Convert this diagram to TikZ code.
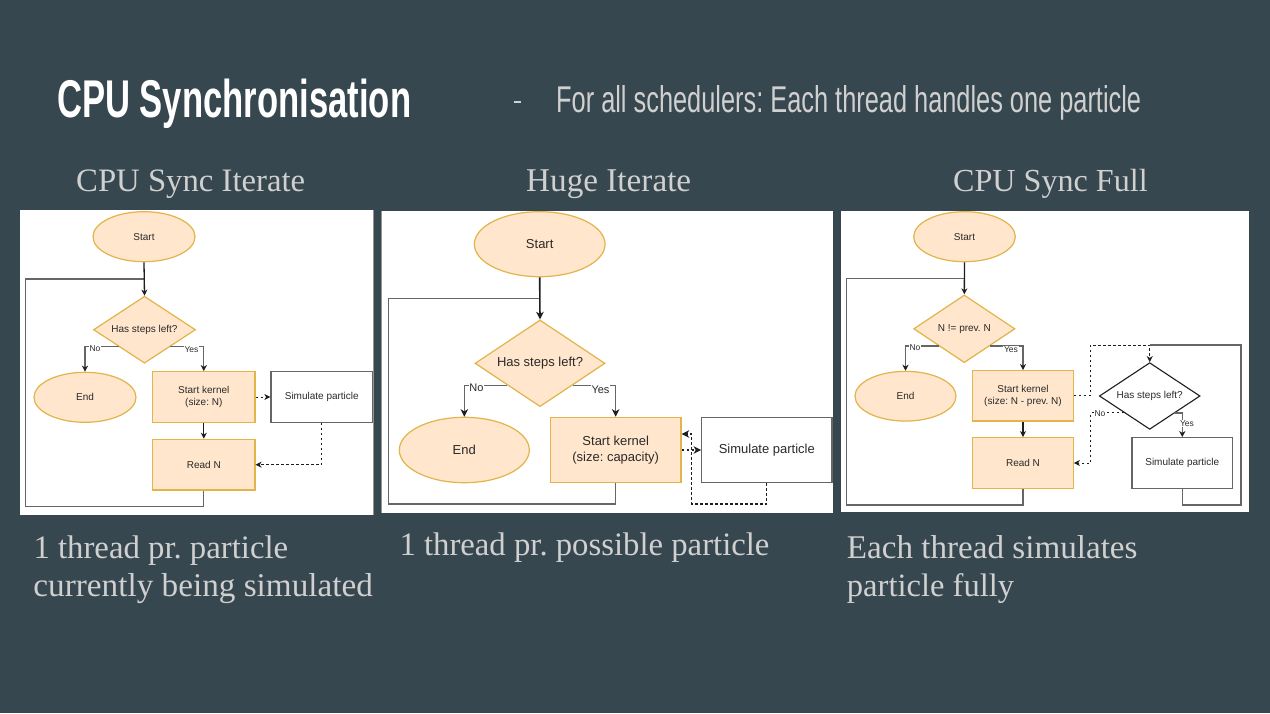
\documentclass[tikz,border=0pt]{standalone}
\usepackage{fontspec}
\setmainfont{Liberation Serif}
\newfontfamily\dio{Liberation Sans}
\newfontfamily\ttlfont{Liberation Sans}
\usetikzlibrary{shapes.geometric,arrows.meta}
\definecolor{bg}{HTML}{37474F}
\definecolor{fillo}{HTML}{FFE6CC}
\definecolor{stro}{HTML}{E2B449}
\definecolor{lgray}{HTML}{D0D0D0}
\definecolor{txtd}{HTML}{2A2A2A}
\definecolor{lineg}{HTML}{666666}
\definecolor{lined}{HTML}{1E1E1E}
\newcommand{\fitw}[2]{\resizebox{#1}{!}{\fontsize{33}{33}\selectfont #2}}
\frenchspacing
\begin{document}
\begin{tikzpicture}[x=1pt,y=-1pt,
  every node/.style={inner sep=0pt},
  orn/.style={draw=stro, fill=fillo, line width=1.2pt, text=txtd},
  wbox/.style={draw=lineg, fill=white, line width=1.2pt, text=txtd},
  sz/.style 2 args={minimum width=#1pt, minimum height=#2pt},
  fa/.style={font=\dio\fontsize{10}{12}\selectfont, align=center, text=txtd},
  fb/.style={font=\dio\fontsize{13}{15.5}\selectfont, align=center, text=txtd},
  lbla/.style={font=\dio\fontsize{8.5}{9}\selectfont, fill=white, text=txtd, inner sep=0.6pt},
  lblb/.style={font=\dio\fontsize{11}{12}\selectfont, fill=white, text=txtd, inner sep=0.8pt},
  tipa/.style={-{Stealth[length=6pt,width=6pt,inset=1.8pt,color=lined]}},
  tipb/.style={-{Stealth[length=7.5pt,width=7.5pt,inset=2.2pt,color=lined]}},
  main/.style={draw=lined, line width=1.3pt},
  br/.style={draw=lineg, line width=1.3pt},
  dsh/.style={draw=lined, line width=1pt, dash pattern=on 2.5pt off 2.5pt},
  hd/.style={anchor=base west, text=lgray},
]
\useasboundingbox (0,0) rectangle (1270,713);
\fill[bg] (0,0) rectangle (1270,713);

% ---------- titles ----------
\node[anchor=base west, text=white] (title) at (57,117.5)
  {\resizebox{354pt}{38.5pt}{\ttlfont\bfseries CPU Synchronisation}};
\draw[lgray, line width=2pt] (513.5,102) -- (520.5,102);
\node[anchor=base west, text=lgray] (sub) at (556,112)
  {\resizebox{585pt}{27pt}{\ttlfont For all schedulers: Each thread handles one particle}};

\node[hd] (h1) at (76,191) {\fitw{229pt}{CPU Sync Iterate}};
\node[hd] (h2) at (526,191) {\fitw{165pt}{Huge Iterate}};
\node[hd] (h3) at (953,191) {\fitw{194.5pt}{CPU Sync Full}};

\node[hd] (t1a) at (33.3,558.3) {\fitw{254.7pt}{1 thread pr. particle}};
\node[hd] (t1b) at (33.3,596) {\fitw{339.4pt}{currently being simulated}};
\node[hd] (t2a) at (399.3,555.7) {\fitw{370pt}{1 thread pr. possible particle}};
\node[hd] (t3a) at (846.7,558.3) {\fitw{290.6pt}{Each thread simulates}};
\node[hd] (t3b) at (846.7,596.7) {\fitw{167.3pt}{particle fully}};

% ---------- panels ----------
\fill[white] (20,210) rectangle (374,515);
\draw[lineg!70, line width=1pt] (373.3,210) -- (373.3,515);
\fill[white] (381,211) rectangle (833,513);
\draw[lineg!70, line width=1pt] (381.8,211) -- (381.8,513);
\fill[white] (841,211) rectangle (1249,512);

% ================= Panel 1 =================
\node[orn, ellipse, sz={102}{50}, fa] (S1) at (144,236.7) {Start};
\node[orn, diamond, sz={102}{67}] (D1) at (144.5,329.7) {};
\node[fa] (D1t) at (D1) {Has steps left?};
\node[orn, ellipse, sz={102}{50}, fa] (E1) at (85,397.3) {End};
\node[orn, rectangle, sz={102.3}{50.6}, fa] (K1) at (203.8,397) {Start kernel\\(size: N)};
\node[wbox, rectangle, sz={101.7}{50.6}, fa] (P1) at (321.8,397) {Simulate particle};
\node[orn, rectangle, sz={102.3}{50.7}, fa] (R1) at (203.8,464.7) {Read N};
\coordinate (L1a) at (25.7,506.7);
\coordinate (L1b) at (25.7,279);

\draw[br] (R1.south) |- (L1a) -- (L1b) -- (L1b -| S1.south);
\draw[main, tipa] (S1.south) -- (D1.north);
\draw[br, tipa] (D1.south west) -| (E1.north);
\draw[br, tipa] (D1.south east) -| (K1.north);
\node[lbla] (n1) at (95,348.3) {No};
\node[lbla] (y1) at (191.5,350) {Yes};
\draw[dsh, tipa] (K1.east) -- (P1.west);
\draw[main, tipa] (K1.south) -- (R1.north);
\draw[dsh, tipa] (P1.south) |- (R1.east);

% ================= Panel 2 =================
\node[orn, ellipse, sz={130.7}{65}, fb] (S2) at (539.7,244.2) {Start};
\node[orn, diamond, sz={130}{86.7}] (D2) at (540,363.3) {};
\node[fb] (D2t) at (D2) {Has steps left?};
\node[orn, ellipse, sz={130}{65.4}, fb] (E2) at (464.3,450) {End};
\node[orn, rectangle, sz={130.7}{65.4}, fb] (K2) at (615.7,450) {Start kernel\\(size: capacity)};
\node[wbox, rectangle, sz={130.3}{65.4}, fb] (P2) at (766.8,450) {Simulate particle};
\coordinate (L2a) at (388.3,504);
\coordinate (L2b) at (388.3,298.3);
\coordinate (R2a) at (691.7,504);

\draw[br, line width=1.5pt] (K2.south) |- (L2a) -- (L2b) -- (L2b -| S2.south);
\draw[main, line width=1.6pt, tipb] (S2.south) -- (D2.north);
\draw[br, line width=1.5pt, tipb] (D2.south west) -| (E2.north);
\draw[br, line width=1.5pt, tipb] (D2.south east) -| (K2.north);
\node[lblb] (n2) at (476.5,387.7) {No};
\node[lblb] (y2) at (600.5,390) {Yes};
\draw[dsh, line width=1.2pt, tipb] (K2.east) -- (P2.west);
\draw[dsh, line width=1.2pt, tipb] (P2.south) |- (R2a) |- ([yshift=16pt]K2.east);

% ================= Panel 3 =================
\node[orn, ellipse, sz={101.6}{50}, fa] (S3) at (964.5,236.7) {Start};
\node[orn, diamond, sz={101.3}{67.7}] (D3) at (964.3,328.8) {};
\node[fa] (D3t) at (D3) {N != prev. N};
\node[orn, ellipse, sz={101}{49.7}, fa] (E3) at (905.5,396.2) {End};
\node[orn, rectangle, sz={100.6}{50.3}, fa] (K3) at (1023,395.8) {Start kernel\\(size: N - prev. N)};
\node[orn, rectangle, sz={100.6}{50.6}, fa] (R3) at (1023,463) {Read N};
\node[draw=lined, fill=white, line width=1.1pt, diamond, sz={100.7}{66.7}] (D4) at (1149.7,396) {};
\node[fa] (D4t) at (D4) {Has steps left?};
\node[wbox, rectangle, sz={100.7}{50.6}, fa] (P3) at (1182.3,463) {Simulate particle};
\coordinate (L3a) at (846.7,505);
\coordinate (L3b) at (846.7,278.3);
\coordinate (L3c) at (1241,505);
\coordinate (L3d) at (1241,345);
\coordinate (C3a) at (1090.3,345);

\draw[br] (R3.south) |- (L3a) -- (L3b) -- (L3b -| S3.south);
\draw[br] (P3.south) |- (L3c) -- (L3d) -- (L3d -| D4.north);
\draw[main, tipa] (S3.south) -- (D3.north);
\draw[br, tipa] (D3.south west) -| (E3.north);
\draw[br, tipa] (D3.south east) -| (K3.north);
\node[lbla] (n3) at (915,347.5) {No};
\node[lbla] (y3) at (1011,349.3) {Yes};
\draw[main, tipa] (K3.south) -- (R3.north);
\draw[dsh, tipa] (K3.east) -| (C3a) -| (D4.north);
\draw[dsh, tipa] (D4.south west) -| ([xshift=17pt]R3.east) -- (R3.east);
\draw[br, tipa] (D4.south east) -| (P3.north);
\node[lbla] (n4) at (1100,413.3) {No};
\node[lbla] (y4) at (1187,423.7) {Yes};
\end{tikzpicture}
\end{document}
